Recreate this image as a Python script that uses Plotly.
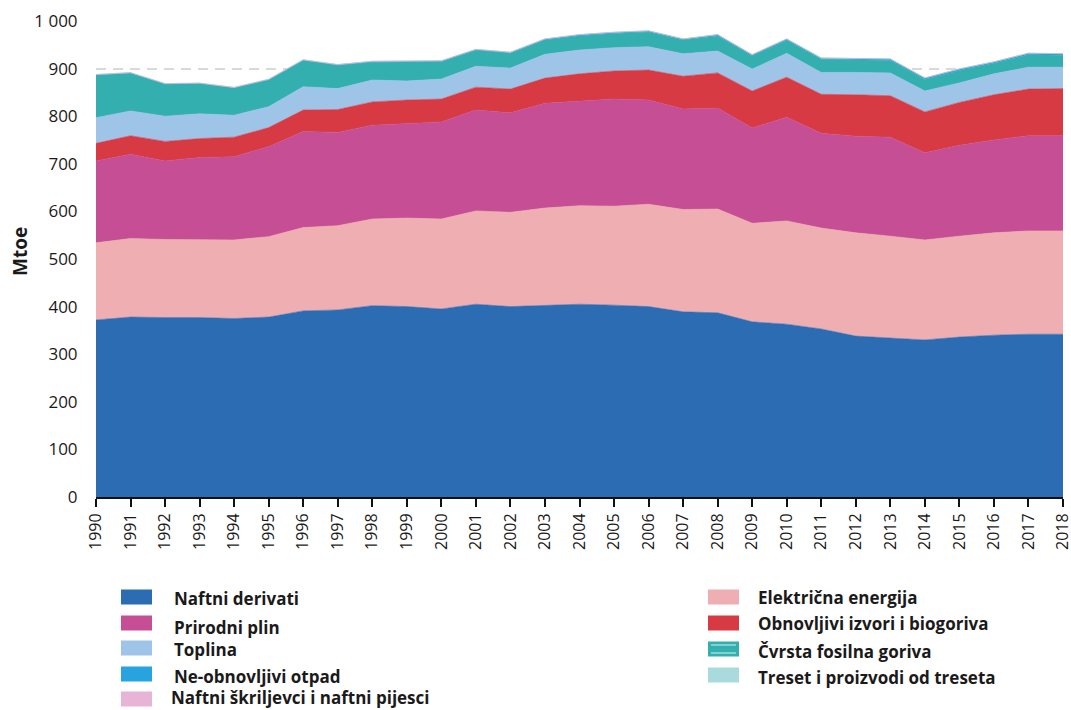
import plotly.graph_objects as go

# ---------------- data (Mtoe) ----------------
years = list(range(1990, 2019))
year_labels = [str(y) for y in years]

naftni_derivati = [372, 378, 377, 377, 375, 378, 391, 393, 402, 400, 395, 405, 400, 403, 405,
                   403, 400, 389, 387, 368, 363, 353, 338, 334, 330, 336, 340, 342, 342]
elektricna_energija = [162, 165, 164, 163, 165, 169, 175, 177, 182, 186, 189, 196, 198, 204, 207,
                       208, 215, 215, 218, 207, 217, 212, 217, 214, 210, 212, 215, 217, 217]
prirodni_plin = [172, 177, 165, 173, 175, 189, 202, 196, 197, 199, 204, 212, 209, 220, 220,
                 225, 219, 211, 212, 200, 218, 199, 203, 208, 183, 191, 195, 200, 200]
obnovljivi = [37, 39, 41, 40, 41, 40, 45, 48, 49, 49, 48, 48, 50, 53, 57,
              59, 63, 69, 74, 78, 84, 82, 87, 87, 86, 90, 95, 98, 99]
toplina = [54, 52, 53, 52, 46, 44, 49, 44, 46, 40, 42, 44, 44, 50, 50,
           49, 49, 47, 46, 46, 50, 46, 47, 48, 44, 41, 44, 46, 45]
cvrsta_fosilna = [89, 79, 67, 63, 57, 56, 55, 49, 37.5, 39.5, 36.5, 33.5, 31.5, 30, 30,
                  30, 31, 29, 31.5, 27.5, 27.5, 27.5, 26.5, 26, 24, 26, 22, 26, 25]
ne_obnovljivi_otpad = [1, 1, 1, 1, 1, 1, 1, 1, 1.5, 1.5, 1.5, 1.5, 1.5, 2, 2,
                       2, 2, 2, 2.5, 2.5, 2.5, 2.5, 2.5, 3, 3, 3, 3, 3, 3]
treset = [0.6, 0.6, 0.5, 0.5, 0.5, 0.5, 0.5, 0.5, 0.4, 0.4, 0.4, 0.4, 0.4, 0.4, 0.4,
          0.4, 0.4, 0.4, 0.4, 0.3, 0.3, 0.3, 0.3, 0.3, 0.3, 0.3, 0.3, 0.3, 0.3]
skriljevci = [0.1, 0.1, 0.1, 0.1, 0.1, 0.1, 0.1, 0.1, 0.1, 0.1, 0.1, 0.1, 0.1, 0.1, 0.1,
              0.1, 0.1, 0.1, 0.1, 0.1, 0.1, 0.1, 0.1, 0.1, 0.1, 0.1, 0.1, 0.1, 0.1]

y_ticks = list(range(0, 1001, 100))

# ---------------- series (stack order bottom -> top) ----------------
series = [
    ("Naftni derivati", naftni_derivati, "#2B6CB3"),
    ("Električna energija", elektricna_energija, "#EFAFB2"),
    ("Prirodni plin", prirodni_plin, "#C64E94"),
    ("Obnovljivi izvori i biogoriva", obnovljivi, "#D83A44"),
    ("Toplina", toplina, "#9EC4E8"),
    ("Čvrsta fosilna goriva", cvrsta_fosilna, "#33AFAF"),
    ("Ne-obnovljivi otpad", ne_obnovljivi_otpad, "#27A4DF"),
    ("Treset i proizvodi od treseta", treset, "#A9DADC"),
    ("Naftni škriljevci i naftni pijesci", skriljevci, "#E8B4D6"),
]
colors = {n: c for n, _, c in series}

fig = go.Figure()
for name, vals, col in series:
    fig.add_trace(go.Scatter(
        x=years, y=vals, name=name, mode="lines", stackgroup="one",
        line=dict(width=0.6, color=col), fillcolor=col,
        hoverinfo="skip", showlegend=False,
    ))

# ---------------- layout ----------------
# body margin is removed via post_script, so page pixels == figure pixels
W, H = 1071, 710
PLOT_L, PLOT_R, PLOT_T, PLOT_B = 96, 1063, 21, 497
ML, MR, MT, MB = PLOT_L, W - PLOT_R, PLOT_T, H - PLOT_B
PW, PH = W - ML - MR, H - MT - MB


def px_x(x):
    return (x - ML) / PW


def px_y(y):
    return (H - MB - y) / PH


fig.update_layout(
    width=W, height=H,
    margin=dict(l=ML, r=MR, t=MT, b=MB, pad=0, autoexpand=False),
    plot_bgcolor="white", paper_bgcolor="white",
    font=dict(family="Open Sans", color="#1a1a1a"),
    showlegend=False,
    xaxis=dict(
        range=[1990, 2018], tickmode="array", tickvals=years, ticktext=year_labels,
        tickangle=-90, tickfont=dict(size=16, family="Open Sans", color="#1a1a1a"),
        ticklabeloverflow="allow",
        showgrid=False, zeroline=False, automargin=False,
        showline=True, linecolor="#111", linewidth=2,
        ticks="outside", ticklen=8, tickwidth=2, tickcolor="#111",
    ),
    yaxis=dict(
        range=[0, 1000], tickmode="array", tickvals=y_ticks,
        ticktext=[f"{v:,}".replace(",", " ") for v in y_ticks],
        tickfont=dict(size=17, family="Open Sans", color="#1a1a1a"),
        ticklabeloverflow="allow",
        showgrid=True, gridcolor="#d9d9d9", gridwidth=2, griddash="10px,7px",
        zeroline=False, showline=False, automargin=False,
        ticks="outside", ticklen=14, tickcolor="rgba(0,0,0,0)",
    ),
)

# y-axis title
fig.add_annotation(
    text="<b>Mtoe</b>", xref="paper", yref="paper",
    x=px_x(20), y=px_y(252), textangle=-90, showarrow=False,
    font=dict(size=19, family="Open Sans", color="#1a1a1a"),
    xanchor="center", yanchor="middle",
)

# ---------------- custom legend (two columns) ----------------
# (name, swatch left px, swatch centre y px, text left px, text centre y px)
legend_items = [
    ("Naftni derivati", 121, 597, 172, 598),
    ("Prirodni plin", 121, 623, 172, 627),
    ("Toplina", 121, 648, 172, 649),
    ("Ne-obnovljivi otpad", 121, 674, 172, 676),
    ("Naftni škriljevci i naftni pijesci", 121, 699, 169, 697),
    ("Električna energija", 708, 597, 756, 597),
    ("Obnovljivi izvori i biogoriva", 708, 623, 756, 623),
    ("Čvrsta fosilna goriva", 708, 649, 756, 651),
    ("Treset i proizvodi od treseta", 708, 675, 756, 677),
]
SW, SH = 31, 15
for name, sx, sy, tx, ty in legend_items:
    fig.add_shape(
        type="rect", xref="paper", yref="paper",
        x0=px_x(sx), x1=px_x(sx + SW), y0=px_y(sy + SH / 2), y1=px_y(sy - SH / 2),
        fillcolor=colors[name], line=dict(width=0), layer="above",
    )
    if name == "Čvrsta fosilna goriva":
        for dy in (-4, 4):
            fig.add_shape(
                type="line", xref="paper", yref="paper",
                x0=px_x(sx + 3), x1=px_x(sx + SW - 3), y0=px_y(sy + dy), y1=px_y(sy + dy),
                line=dict(color="rgba(255,255,255,0.8)", width=1), layer="above",
            )
    fig.add_annotation(
        text=f"<b>{name}</b>", xref="paper", yref="paper",
        x=px_x(tx), y=px_y(ty), showarrow=False,
        xanchor="left", yanchor="middle",
        font=dict(size=17, family="Open Sans", color="#1a1a1a"),
    )

fig.write_html(
    "out.html",
    config={"displayModeBar": False},
    post_script="document.body.style.margin='0';document.body.style.overflow='hidden';",
)
